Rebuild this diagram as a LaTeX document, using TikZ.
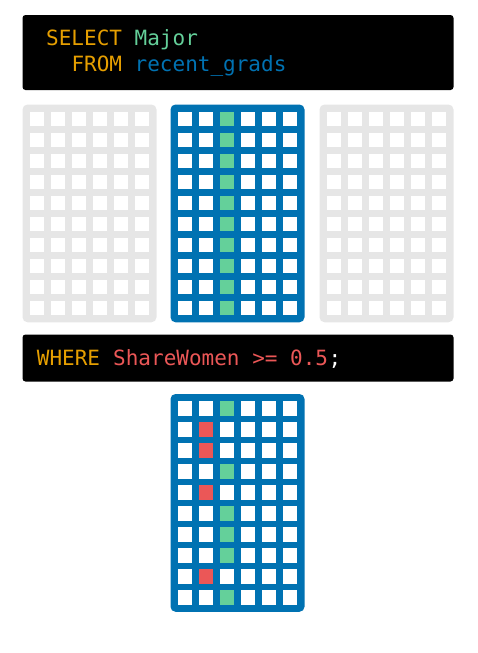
\documentclass[tikz,border=0pt]{standalone}
\usepackage{fontspec}
\setmonofont{DejaVu Sans Mono}
\usepackage{xcolor}
\usepackage{tikz}
\usetikzlibrary{calc}

\definecolor{sqlorange}{HTML}{E69F00}
\definecolor{sqlgreen}{HTML}{64D09A}
\definecolor{sqlblue}{HTML}{0072B2}
\definecolor{sqlred}{HTML}{EB5757}
\definecolor{gridgrey}{HTML}{E6E6E6}

\begin{document}
\begin{tikzpicture}[
  x=1pt, y=-1pt,
  codebox/.style={fill=black, rounded corners=3pt, anchor=north west, minimum width=431pt, inner sep=0pt, outer sep=0pt},
  code/.style={font=\ttfamily\fontsize{21}{26}\selectfont, anchor=base west, inner sep=0pt},
  tablebox/.style={rounded corners=5pt, minimum width=134pt, minimum height=217.8pt, inner sep=0pt, outer sep=0pt, anchor=north west},
  cellbox/.style={fill=white, minimum size=14.4pt, inner sep=0pt, outer sep=0pt, anchor=north west}
]
\useasboundingbox (0,0) rectangle (478,653);

% query, first part
\node[codebox, minimum height=75pt] (selbox) at (22.5,15) {};
\node[code, text=sqlorange] (select) at (46,45) {SELECT};
\node[code, text=sqlgreen] (major) at (134.5,45) {Major};
\node[code, text=sqlorange] (from) at (71.3,71) {FROM};
\node[code, text=sqlblue] (grads) at (134.5,71) {recent\_grads};

% tables
\node[tablebox, fill=gridgrey] (left) at (22.5,104.5) {};
\node[tablebox, fill=sqlblue] (mid) at (170.5,104.5) {};
\node[tablebox, fill=gridgrey] (right) at (319.5,104.5) {};
\foreach \t in {left,mid,right}
  \foreach \c in {0,...,5}
    \foreach \r in {0,...,9}
      \node[cellbox] at ($(\t.north west)+(7.2+21*\c,7.2+21*\r)$) {};
\foreach \r in {0,...,9}
  \node[cellbox, fill=sqlgreen] at ($(mid.north west)+(7.2+42,7.2+21*\r)$) {};

% query, filter
\node[codebox, minimum height=47pt] (wherebox) at (22.5,334.5) {};
\node[code, text=sqlorange] (where) at (36.7,365) {WHERE};
\node[code, text=sqlred] (cond) at (113,365) {ShareWomen >= 0.5};
\node[code, text=white] (semi) at (cond.base east) {;};

% result
\node[tablebox, fill=sqlblue] (result) at (170.5,394) {};
\foreach \c in {0,...,5}
  \foreach \r in {0,...,9}
    \node[cellbox] at ($(result.north west)+(7.2+21*\c,7.2+21*\r)$) {};
\foreach \r in {0,3,5,6,7,9}
  \node[cellbox, fill=sqlgreen] at ($(result.north west)+(7.2+42,7.2+21*\r)$) {};
\foreach \r in {1,2,4,8}
  \node[cellbox, fill=sqlred] at ($(result.north west)+(7.2+21,7.2+21*\r)$) {};
\end{tikzpicture}
\end{document}
